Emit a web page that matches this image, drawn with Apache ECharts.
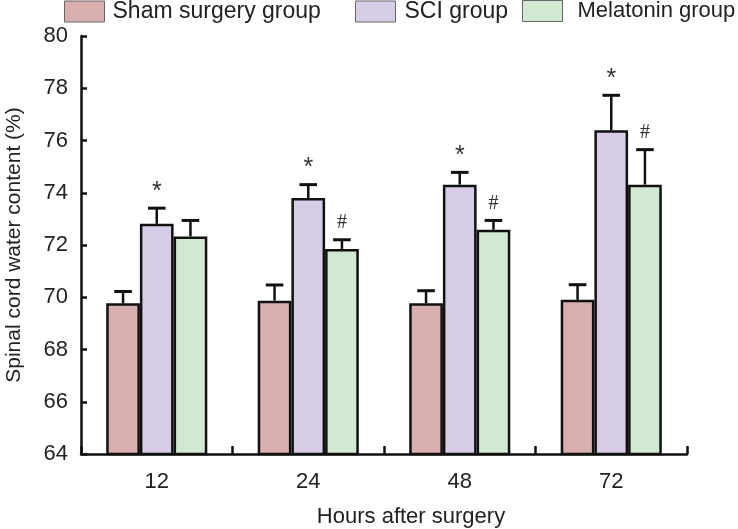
<!DOCTYPE html>
<html>
<head>
<meta charset="utf-8">
<script src="https://cdn.jsdelivr.net/npm/echarts@6/dist/echarts.min.js"></script>
<style>
html,body{margin:0;padding:0;background:#fff;}
#main{width:738px;height:529px;}
</style>
</head>
<body>
<div id="main"></div>
<script>
var categories = ['12', '24', '48', '72'];
var seriesNames = ['Sham surgery group', 'SCI group', 'Melatonin group'];
var shamMean = [69.77, 69.87, 69.77, 69.90];
var shamErr  = [0.45, 0.60, 0.48, 0.58];
var sciMean  = [72.81, 73.80, 74.31, 76.39];
var sciErr   = [0.60, 0.51, 0.47, 1.34];
var melMean  = [72.33, 71.85, 72.58, 74.31];
var melErr   = [0.61, 0.35, 0.36, 1.34];
var shamMarks = ['', '', '', ''];
var sciMarks  = ['*', '*', '*', '*'];
var melMarks  = ['', '#', '#', '#'];
var yTicks = [64, 66, 68, 70, 72, 74, 76, 78, 80];

var colors = ['#d9aeae', '#d8cde6', '#d2e8d3'];
var means = [shamMean, sciMean, melMean];
var errs = [shamErr, sciErr, melErr];
var marks = [shamMarks, sciMarks, melMarks];

var chart = echarts.init(document.getElementById('main'));
var FONT = '"Liberation Sans", Arial, sans-serif';
var barWidth = 33.7;

function errSeries(idx) {
  var data = categories.map(function (c, i) {
    return [i, means[idx][i], means[idx][i] + errs[idx][i], marks[idx][i]];
  });
  return {
    type: 'custom',
    name: seriesNames[idx] + ' err',
    z: 5,
    silent: true,
    data: data,
    renderItem: function (params, api) {
      var ci = api.value(0);
      var base = api.coord([ci, api.value(1)]);
      var top = api.coord([ci, api.value(2)]);
      var offset = (idx - 1) * barWidth;
      var x = base[0] + offset;
      var half = 8.8;
      var children = [
        { type: 'line', shape: { x1: x, y1: base[1], x2: x, y2: top[1] }, style: { stroke: '#111', lineWidth: 2.5 } },
        { type: 'line', shape: { x1: x - half, y1: top[1], x2: x + half, y2: top[1] }, style: { stroke: '#111', lineWidth: 3 } }
      ];
      var m = data[params.dataIndex][3];
      if (m) {
        var isStar = m === '*';
        children.push({
          type: 'text',
          style: {
            text: m, x: x, y: top[1] - (isStar ? 4 : 7),
            align: 'center', verticalAlign: 'bottom',
            font: isStar ? '25px "Liberation Sans", Arial, sans-serif' : '20px "Liberation Serif", "Times New Roman", serif',
            fill: '#333'
          }
        });
      }
      return { type: 'group', children: children };
    }
  };
}

var barSeries = seriesNames.map(function (n, i) {
  return {
    type: 'bar',
    name: n,
    data: means[i],
    barWidth: barWidth,
    barGap: '0%',
    itemStyle: { color: colors[i], borderColor: '#111', borderWidth: 2.5 },
    z: 3
  };
});

var legendPos = [64, 355, 522];
var legendTextPad = [3, 4, 10];
var legendFont = [23, 23, 22];
var legends = seriesNames.map(function (n, i) {
  return {
    data: [n],
    left: legendPos[i],
    top: 0,
    padding: 0,
    itemWidth: 40,
    itemHeight: 21,
    icon: 'rect',
    selectedMode: false,
    textStyle: { fontFamily: FONT, fontSize: legendFont[i], color: '#222', padding: [0, 0, 0, legendTextPad[i]] },
    itemStyle: { borderColor: '#666', borderWidth: 1 }
  };
});

chart.setOption({
  animation: false,
  backgroundColor: '#fff',
  legend: legends,
  grid: { left: 81, right: 51, top: 36, bottom: 75, outerBoundsMode: 'none', containLabel: false },
  xAxis: {
    type: 'category',
    data: categories,
    name: 'Hours after surgery',
    nameLocation: 'middle',
    nameGap: 52,
    nameTextStyle: { fontFamily: FONT, fontSize: 22, color: '#222', padding: [0, 0, 0, 54] },
    axisLine: { lineStyle: { color: '#111', width: 2.5 } },
    axisTick: { show: true, inside: true, length: 8, lineStyle: { color: '#111', width: 2.5 } },
    axisLabel: { fontFamily: FONT, fontSize: 22, color: '#222', margin: 17 }
  },
  yAxis: {
    type: 'value',
    min: 64,
    max: 80,
    interval: 2,
    name: 'Spinal cord water content (%)',
    nameLocation: 'middle',
    nameGap: 56,
    nameRotate: 90,
    nameTextStyle: { fontFamily: FONT, fontSize: 21, color: '#222' },
    axisLine: { show: true, lineStyle: { color: '#111', width: 2.5 } },
    axisTick: { show: true, inside: true, length: 6, lineStyle: { color: '#111', width: 2.5 } },
    splitLine: { show: false },
    axisLabel: {
      fontFamily: FONT, fontSize: 22, color: '#222', margin: 13,
      formatter: function (v) { return yTicks.indexOf(v) >= 0 ? String(v) : ''; }
    }
  },
  series: barSeries.concat([errSeries(0), errSeries(1), errSeries(2)])
});
</script>
</body>
</html>
